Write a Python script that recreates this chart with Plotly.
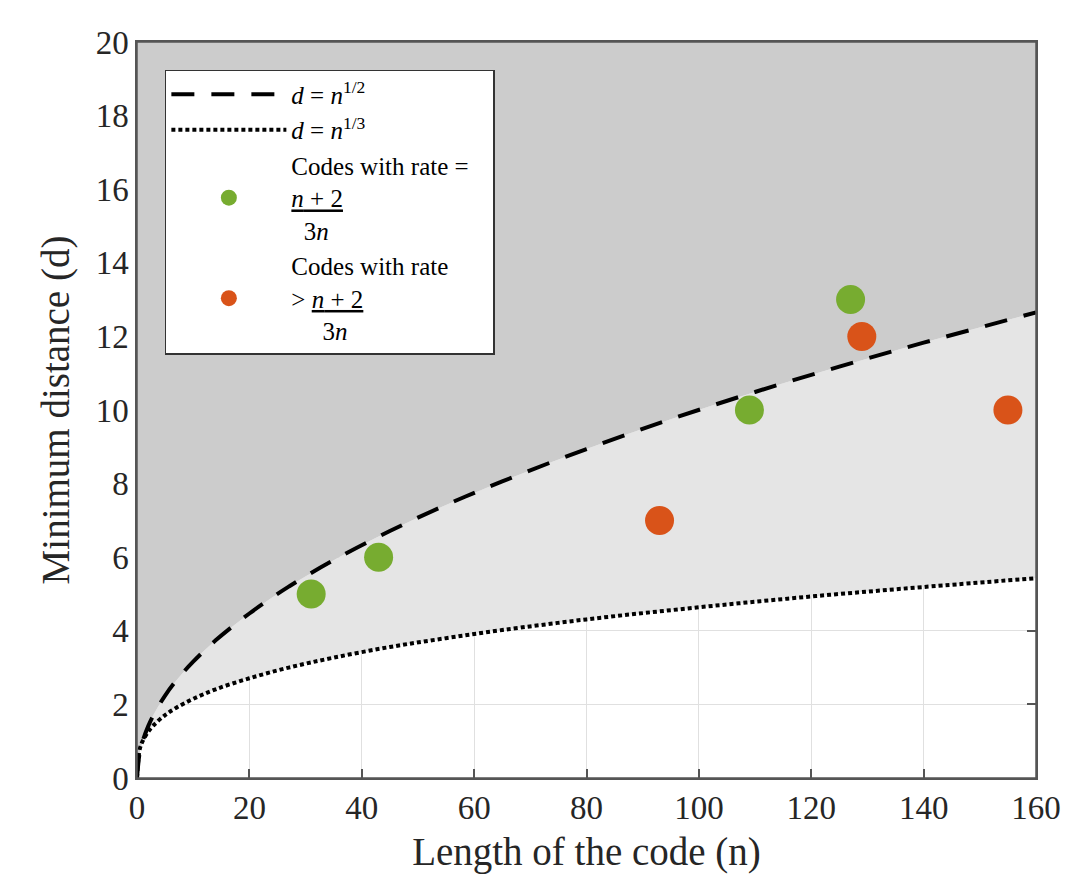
import plotly.graph_objects as go

# curve samples
n_vals = [0, 0.5, 1, 2, 3, 5, 7, 10, 14, 20, 27, 35, 45, 55, 65, 80, 95, 110, 125, 140, 160]
d_sqrt = [0, 0.71, 1, 1.41, 1.73, 2.24, 2.65, 3.16, 3.74, 4.47, 5.2, 5.92, 6.71, 7.42, 8.06,
          8.94, 9.75, 10.49, 11.18, 11.83, 12.65]
d_cbrt = [0, 0.79, 1, 1.26, 1.44, 1.71, 1.91, 2.15, 2.41, 2.71, 3.0, 3.27, 3.56, 3.8, 4.02,
          4.31, 4.56, 4.79, 5.0, 5.19, 5.43]
d_max = 20

# codes
eq_n = [31, 43, 109, 127]
eq_d = [5, 6, 10, 13]
gt_n = [93, 129, 155]
gt_d = [7, 12, 10]

font = "Liberation Serif"
fig = go.Figure()

# shaded regions
fig.add_trace(go.Scatter(x=n_vals, y=d_cbrt, mode="lines", line=dict(width=0, shape="spline"),
                         showlegend=False, hoverinfo="skip"))
fig.add_trace(go.Scatter(x=n_vals, y=d_sqrt, mode="lines", line=dict(width=0, shape="spline"),
                         fill="tonexty", fillcolor="#e5e5e5", showlegend=False, hoverinfo="skip"))
fig.add_trace(go.Scatter(x=n_vals, y=[d_max] * len(n_vals), mode="lines", line=dict(width=0),
                         fill="tonexty", fillcolor="#cccccc", showlegend=False, hoverinfo="skip"))

# bound curves
fig.add_trace(go.Scatter(x=n_vals, y=d_sqrt, mode="lines", name="<i>d</i> = <i>n</i><sup>1/2</sup>",
                         line=dict(color="black", width=4, dash="23px,17px", shape="spline")))
fig.add_trace(go.Scatter(x=n_vals, y=d_cbrt, mode="lines", name="<i>d</i> = <i>n</i><sup>1/3</sup>",
                         line=dict(color="black", width=4, dash="4px,3px", shape="spline")))

fig.add_trace(go.Scatter(x=eq_n, y=eq_d, mode="markers",
                         name="Codes with rate =&nbsp;&nbsp;&nbsp;<br><u><i>n</i> + 2</u><br>&nbsp;&nbsp;3<i>n</i>",
                         marker=dict(color="#77ac30", size=29)))
fig.add_trace(go.Scatter(x=gt_n, y=gt_d, mode="markers",
                         name="Codes with rate<br>&gt; <u><i>n</i> + 2</u><br>&nbsp;&nbsp;&nbsp;&nbsp;&nbsp;3<i>n</i>",
                         marker=dict(color="#d95319", size=29)))

axis_common = dict(
    showgrid=True, gridcolor="#e0e0e0", gridwidth=1,
    showline=True, linecolor="#555555", linewidth=1.5, mirror="ticks",
    ticks="inside", ticklen=9, tickcolor="#555555", tickwidth=1.5,
    tickfont=dict(family=font, size=33, color="#262626"),
    zeroline=False, layer="below traces",
)

fig.update_xaxes(range=[0, 160], dtick=20,
                 title=dict(text="Length of the code (n)", font=dict(family=font, size=39, color="#262626"),
                            standoff=12),
                 **axis_common)
fig.update_yaxes(range=[0, 20], dtick=2,
                 title=dict(text="Minimum distance (d)", font=dict(family=font, size=39, color="#262626"),
                            standoff=14),
                 **axis_common)

# box drawn over the fills
fig.add_shape(type="rect", xref="paper", yref="paper", x0=0, y0=0, x1=1, y1=1,
              line=dict(color="#555555", width=1.5), layer="above")

# page body adds an 8px offset, so the figure is 8px smaller
fig.update_layout(
    width=1070, height=872,
    margin=dict(l=129, r=42, t=34, b=102, autoexpand=False),
    plot_bgcolor="white", paper_bgcolor="white",
    font=dict(family=font, color="#262626"),
    legend=dict(x=0.031, y=0.962, xanchor="left", yanchor="top", traceorder="normal",
                bgcolor="white", bordercolor="#333333", borderwidth=1.5,
                font=dict(family=font, size=25, color="black"),
                itemwidth=115),
)

fig.write_html("out.html")
